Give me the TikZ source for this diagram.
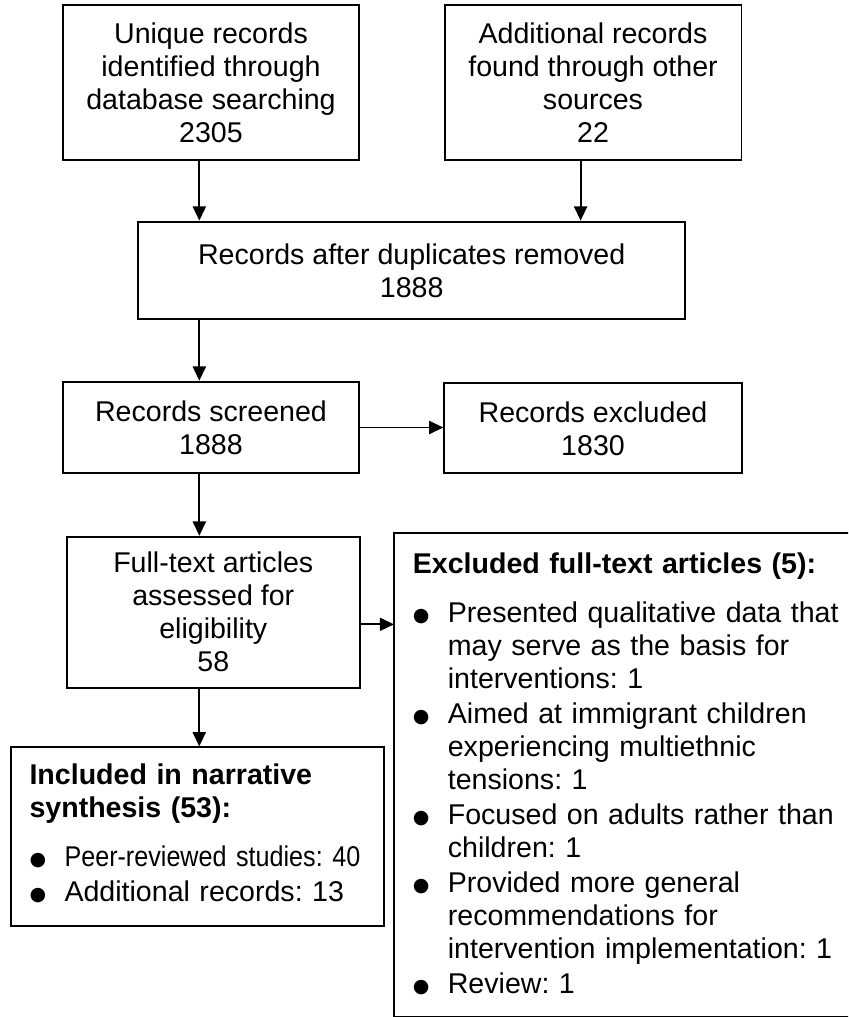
\documentclass[tikz,border=0pt]{standalone}
\usepackage{fontspec}
\setmainfont{Liberation Sans}
\newfontfamily\symfont{DejaVu Sans}
\usetikzlibrary{arrows.meta, positioning}

\newcommand{\bdot}{\raisebox{0.6pt}{\symfont\fontsize{8}{8}\selectfont ●}}
\newcommand{\bitem}[1]{\par\vspace{1pt}\noindent\hangindent=14.7pt\hangafter=0
    \llap{\makebox[14.7pt][l]{\bdot}}#1\par}

\begin{document}
\frenchspacing
\begin{tikzpicture}[x=0.42pt, y=-0.42pt,
    box/.style={draw, line width=0.8pt, align=center, inner sep=0pt,
        font=\fontsize{12}{13.86}\selectfont},
    txt/.style={align=left, inner sep=0pt, anchor=north west,
        font=\fontsize{12}{13.8}\selectfont\frenchspacing},
    arr/.style={-{Triangle[width=5.5pt,length=6pt]}, line width=0.8pt}]

    \useasboundingbox (0,0) rectangle (848,1017);
    \clip (0,0) rectangle (848,1017);

    \node[box, minimum width=124.4pt, minimum height=65.1pt] (uniq) at (211,82.5)
        {Unique records\\identified through\\database searching\\2305};
    \node[box, minimum width=124.7pt, minimum height=65.1pt] (other) at (593,82.5)
        {Additional records\\found through other\\sources\\22};
    \node[box, minimum width=229.6pt, minimum height=40.9pt] (dupl) at (411.7,270.3)
        {Records after duplicates removed\\1888};
    \node[box, minimum width=124.4pt, minimum height=38.5pt] (scrn) at (211,427.5)
        {Records screened\\1888};
    \node[box, minimum width=124.9pt, minimum height=37.8pt] (recx) at (593,428.3)
        {Records excluded\\1830};
    \node[box, minimum width=123.2pt, minimum height=63.4pt] (full) at (213.3,612.2)
        {Full-text articles\\assessed for\\eligibility\\58};

    % boxes with bullet lists (right side of the big one runs off the page)
    \node[box, draw=none, minimum width=197.4pt, minimum height=202.2pt] (exft) at (630,775) {};
    \draw[line width=0.8pt] (exft.north east) -- (exft.north west) -- (exft.south west) -- (exft.south east);
    \node[txt, text width=180pt] (exfttxt) at ([xshift=7.7pt,yshift=-7.9pt]exft.north west)
        {\textbf{Excluded full-text articles (5):}\par\vspace{6pt}
        \bitem{Presented qualitative data that\newline may serve as the basis for\newline interventions: 1}
        \bitem{Aimed at immigrant children\newline experiencing multiethnic\newline tensions: 1}
        \bitem{Focused on adults rather than\newline children: 1}
        \bitem{Provided more general\newline recommendations for\newline intervention implementation: 1}
        \bitem{Review: 1}};

    \node[box, minimum width=156.7pt, minimum height=74.9pt] (incl) at (197.5,836.5) {};
    \node[txt, text width=145pt] (incltxt) at ([xshift=8pt,yshift=-7pt]incl.north west)
        {\textbf{Included in narrative}\\\textbf{synthesis (53):}\par\vspace{6pt}
        \bitem{{\addfontfeatures{FakeStretch=0.88}Peer-reviewed studies: 40}}
        \bitem{Additional records: 13}};

    \draw[arr] ([xshift=-4.9pt]uniq.south) -- ([xshift=-4.9pt]uniq.south |- dupl.north);
    \draw[arr] ([xshift=-5.2pt]other.south) -- ([xshift=-5.2pt]other.south |- dupl.north);
    \draw[arr] ([xshift=-4.9pt]scrn.north |- dupl.south) -- ([xshift=-4.9pt]scrn.north);
    \draw[arr] (scrn.east) -- (scrn.east -| recx.west);
    \draw[arr] ([xshift=-4.9pt]scrn.south) -- ([xshift=-4.9pt]scrn.south |- full.north);
    \draw[arr] ([yshift=-5.1pt]full.east) -- ([yshift=-5.1pt]full.east -| exft.west);
    \draw[arr] ([xshift=-5.9pt]full.south) -- ([xshift=-5.9pt]full.south |- incl.north);

\end{tikzpicture}
\end{document}
